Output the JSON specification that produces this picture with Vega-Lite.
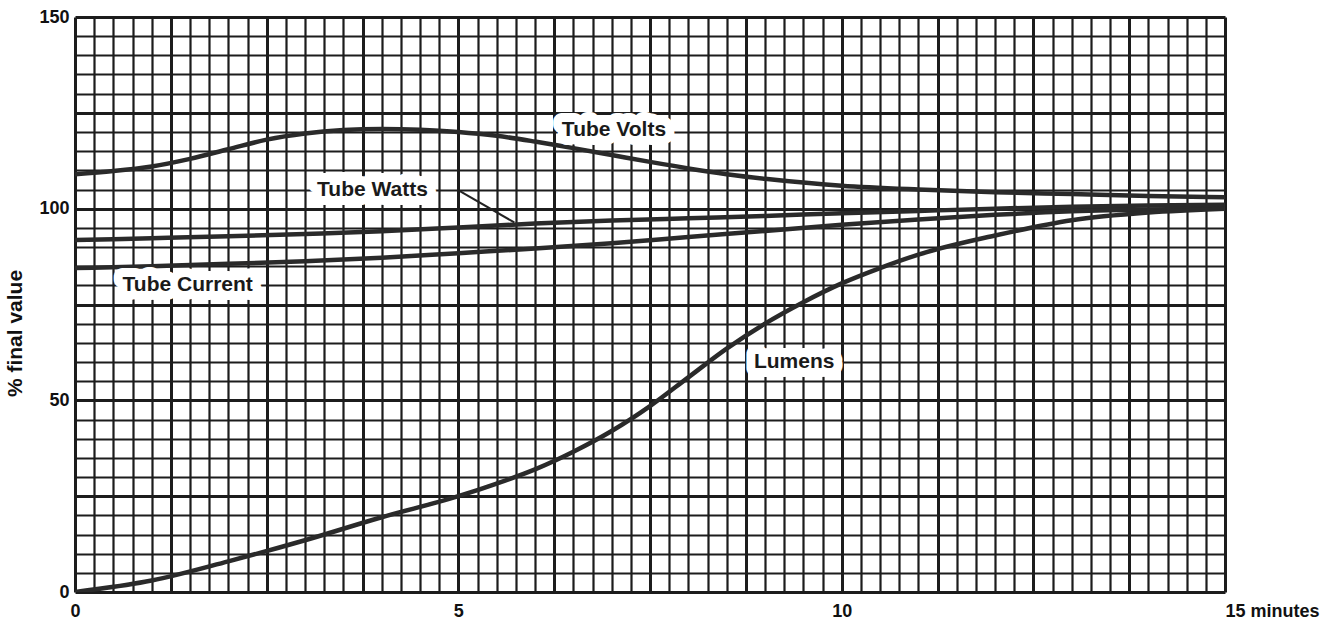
{
  "$schema": "https://vega.github.io/schema/vega-lite/v6.json",
  "width": 1150,
  "height": 575,
  "autosize": {"type": "none"},
  "padding": {"left": 75, "top": 17, "right": 108, "bottom": 31},
  "background": "white",
  "config": {"view": {"stroke": null}, "font": "Liberation Sans"},
  "datasets": {
    "curves": [
      {"series": "Tube Volts", "t": 0, "v": 109},
      {"series": "Tube Volts", "t": 0.5, "v": 109.8},
      {"series": "Tube Volts", "t": 1, "v": 111},
      {"series": "Tube Volts", "t": 1.5, "v": 113},
      {"series": "Tube Volts", "t": 2, "v": 115.5},
      {"series": "Tube Volts", "t": 2.5, "v": 118},
      {"series": "Tube Volts", "t": 3, "v": 119.6},
      {"series": "Tube Volts", "t": 3.5, "v": 120.5},
      {"series": "Tube Volts", "t": 4, "v": 120.8},
      {"series": "Tube Volts", "t": 4.5, "v": 120.6},
      {"series": "Tube Volts", "t": 5, "v": 120},
      {"series": "Tube Volts", "t": 5.5, "v": 119},
      {"series": "Tube Volts", "t": 6, "v": 117.5},
      {"series": "Tube Volts", "t": 6.5, "v": 115.8},
      {"series": "Tube Volts", "t": 7, "v": 114},
      {"series": "Tube Volts", "t": 7.5, "v": 112.2},
      {"series": "Tube Volts", "t": 8, "v": 110.5},
      {"series": "Tube Volts", "t": 8.5, "v": 109},
      {"series": "Tube Volts", "t": 9, "v": 107.8},
      {"series": "Tube Volts", "t": 9.5, "v": 106.8},
      {"series": "Tube Volts", "t": 10, "v": 106},
      {"series": "Tube Volts", "t": 11, "v": 105},
      {"series": "Tube Volts", "t": 12, "v": 104.3},
      {"series": "Tube Volts", "t": 13, "v": 103.8},
      {"series": "Tube Volts", "t": 14, "v": 103.3},
      {"series": "Tube Volts", "t": 15, "v": 103},
      {"series": "Tube Watts", "t": 0, "v": 91.8},
      {"series": "Tube Watts", "t": 1, "v": 92.3},
      {"series": "Tube Watts", "t": 2, "v": 92.8},
      {"series": "Tube Watts", "t": 3, "v": 93.4},
      {"series": "Tube Watts", "t": 4, "v": 94.1},
      {"series": "Tube Watts", "t": 5, "v": 95.1},
      {"series": "Tube Watts", "t": 6, "v": 96.1},
      {"series": "Tube Watts", "t": 7, "v": 96.9},
      {"series": "Tube Watts", "t": 8, "v": 97.5},
      {"series": "Tube Watts", "t": 9, "v": 98.1},
      {"series": "Tube Watts", "t": 10, "v": 98.8},
      {"series": "Tube Watts", "t": 11, "v": 99.4},
      {"series": "Tube Watts", "t": 12, "v": 100},
      {"series": "Tube Watts", "t": 13, "v": 100.5},
      {"series": "Tube Watts", "t": 14, "v": 100.8},
      {"series": "Tube Watts", "t": 15, "v": 101},
      {"series": "Tube Current", "t": 0, "v": 84.5},
      {"series": "Tube Current", "t": 1, "v": 85},
      {"series": "Tube Current", "t": 2, "v": 85.6},
      {"series": "Tube Current", "t": 3, "v": 86.3},
      {"series": "Tube Current", "t": 4, "v": 87.2},
      {"series": "Tube Current", "t": 5, "v": 88.4},
      {"series": "Tube Current", "t": 6, "v": 89.6},
      {"series": "Tube Current", "t": 7, "v": 91},
      {"series": "Tube Current", "t": 8, "v": 92.6},
      {"series": "Tube Current", "t": 9, "v": 94.2},
      {"series": "Tube Current", "t": 10, "v": 95.8},
      {"series": "Tube Current", "t": 11, "v": 97.2},
      {"series": "Tube Current", "t": 12, "v": 98.4},
      {"series": "Tube Current", "t": 13, "v": 99.3},
      {"series": "Tube Current", "t": 14, "v": 99.8},
      {"series": "Tube Current", "t": 15, "v": 100},
      {"series": "Lumens", "t": 0, "v": 0},
      {"series": "Lumens", "t": 1, "v": 3},
      {"series": "Lumens", "t": 2, "v": 8},
      {"series": "Lumens", "t": 3, "v": 13.5},
      {"series": "Lumens", "t": 4, "v": 19.5},
      {"series": "Lumens", "t": 5, "v": 25},
      {"series": "Lumens", "t": 5.5, "v": 28.3},
      {"series": "Lumens", "t": 6, "v": 32},
      {"series": "Lumens", "t": 6.5, "v": 36.6},
      {"series": "Lumens", "t": 7, "v": 42},
      {"series": "Lumens", "t": 7.5, "v": 48.5},
      {"series": "Lumens", "t": 8, "v": 56},
      {"series": "Lumens", "t": 8.5, "v": 63.5},
      {"series": "Lumens", "t": 9, "v": 70},
      {"series": "Lumens", "t": 9.5, "v": 75.6},
      {"series": "Lumens", "t": 10, "v": 80.5},
      {"series": "Lumens", "t": 10.5, "v": 84.5},
      {"series": "Lumens", "t": 11, "v": 88},
      {"series": "Lumens", "t": 12, "v": 93},
      {"series": "Lumens", "t": 13, "v": 97},
      {"series": "Lumens", "t": 14, "v": 99},
      {"series": "Lumens", "t": 15, "v": 100}
    ],
    "labels": [
      {"name": "Tube Volts", "t": 7.03, "v": 120.5},
      {"name": "Tube Watts", "t": 3.88, "v": 104.9},
      {"name": "Tube Current", "t": 1.47, "v": 80.1},
      {"name": "Lumens", "t": 9.38, "v": 60}
    ],
    "pointer": [
      {"t": 5.02, "v": 104.6, "t2": 5.73, "v2": 96.4}
    ]
  },
  "encoding": {
    "x": {
      "field": "t",
      "type": "quantitative",
      "scale": {"domain": [0, 15], "nice": false, "zero": false},
      "axis": {
        "values": [0,0.25,0.5,0.75,1,1.25,1.5,1.75,2,2.25,2.5,2.75,3,3.25,3.5,3.75,4,4.25,4.5,4.75,5,5.25,5.5,5.75,6,6.25,6.5,6.75,7,7.25,7.5,7.75,8,8.25,8.5,8.75,9,9.25,9.5,9.75,10,10.25,10.5,10.75,11,11.25,11.5,11.75,12,12.25,12.5,12.75,13,13.25,13.5,13.75,14,14.25,14.5,14.75,15],
        "grid": true,
        "gridColor": "#1c1c1c",
        "gridOpacity": 1,
        "gridWidth": {"condition": {"test": "datum.value % 1.25 === 0", "value": 3}, "value": 2.2},
        "ticks": false,
        "domain": false,
        "labelExpr": "datum.value === 0 ? '0' : datum.value === 5 ? '5' : datum.value === 10 ? '10' : datum.value === 15 ? '15 minutes' : ''",
        "labelFont": "Liberation Sans",
        "labelFontWeight": "bold",
        "labelFontSize": 18,
        "labelColor": "#111111",
        "labelPadding": 10,
        "labelAlign": {"condition": {"test": "datum.value === 15", "value": "left"}, "value": "center"},
        "labelOverlap": false,
        "labelBound": false,
        "labelFlush": false,
        "title": null
      }
    },
    "y": {
      "field": "v",
      "type": "quantitative",
      "scale": {"domain": [0, 150], "nice": false},
      "axis": {
        "values": [0,5,10,15,20,25,30,35,40,45,50,55,60,65,70,75,80,85,90,95,100,105,110,115,120,125,130,135,140,145,150],
        "grid": true,
        "gridColor": "#1c1c1c",
        "gridOpacity": 1,
        "gridWidth": {"condition": {"test": "datum.value % 25 === 0", "value": 3}, "value": 2.2},
        "ticks": false,
        "domain": false,
        "labelExpr": "datum.value % 50 === 0 ? datum.label : ''",
        "labelFont": "Liberation Sans",
        "labelFontWeight": "bold",
        "labelFontSize": 18,
        "labelColor": "#111111",
        "labelPadding": 6,
        "labelOverlap": false,
        "labelBound": false,
        "labelFlush": false,
        "title": "% final value",
        "titleFont": "Liberation Sans",
        "titleFontWeight": "bold",
        "titleFontSize": 21,
        "titleColor": "#111111",
        "titleX": -50,
        "titleY": 316
      }
    }
  },
  "layer": [
    {
      "data": {"name": "curves"},
      "mark": {"type": "line", "interpolate": "monotone", "color": "#2a2a2a", "strokeWidth": 4.5, "strokeCap": "round", "clip": true},
      "encoding": {"detail": {"field": "series", "type": "nominal"}}
    },
    {
      "data": {"name": "pointer"},
      "mark": {"type": "rule", "color": "#222222", "strokeWidth": 2},
      "encoding": {
        "x2": {"field": "t2"},
        "y2": {"field": "v2"}
      }
    },
    {
      "data": {"name": "labels"},
      "mark": {"type": "text", "font": "Liberation Sans", "fontWeight": "bold", "fontSize": 21, "fill": "white", "stroke": "white", "strokeWidth": 18, "strokeJoin": "round", "baseline": "middle", "align": "center"},
      "encoding": {"text": {"field": "name"}}
    },
    {
      "data": {"name": "labels"},
      "mark": {"type": "text", "font": "Liberation Sans", "fontWeight": "bold", "fontSize": 21, "color": "#1a1a1a", "baseline": "middle", "align": "center"},
      "encoding": {"text": {"field": "name"}}
    }
  ]
}
